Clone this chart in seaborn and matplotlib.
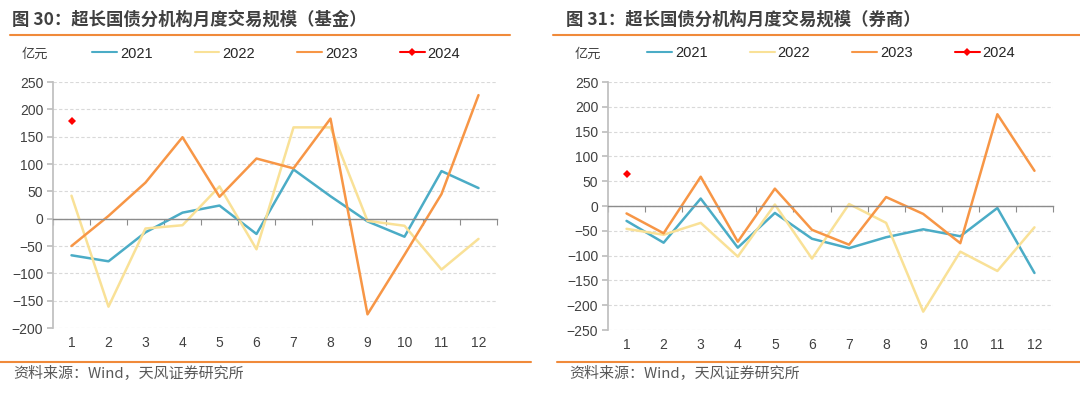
import matplotlib
matplotlib.use('Agg')
import matplotlib.pyplot as plt
import seaborn as sns
import pandas as pd

months = list(range(1, 13))
years = ['2021', '2022', '2023', '2024']

# 基金
fund_2021 = [-67, -78, -25, 11, 24, -28, 90, 41, -5, -33, 87, 56]
fund_2022 = [42, -161, -18, -12, 59, -56, 167, 167, -4, -13, -93, -37]
fund_2023 = [-50, 5, 66, 149, 40, 110, 92, 183, -175, -66, 45, 226]
fund_2024 = [178]

# 券商
broker_2021 = [-30, -74, 15, -84, -14, -66, -85, -63, -47, -61, -4, -135]
broker_2022 = [-46, -58, -34, -102, 3, -106, 4, -34, -213, -92, -131, -43]
broker_2023 = [-15, -55, 59, -72, 35, -48, -78, 18, -16, -75, 185, 71]
broker_2024 = [64]

titles = ['图 30：超长国债分机构月度交易规模（基金）', '图 31：超长国债分机构月度交易规模（券商）']
source = '资料来源：Wind，天风证券研究所'
colors = {'2021': '#4bacc6', '2022': '#f9e197', '2023': '#f79646', '2024': '#ff0000'}

sns.set_theme(style='white')
plt.rcParams['font.family'] = ['Liberation Sans', 'Noto Sans CJK SC', 'DejaVu Sans']
plt.rcParams['axes.unicode_minus'] = True

def make_df(series):
    rows = []
    for y, vals in zip(years, series):
        for m, v in zip(months, vals):
            rows.append({'month': m, 'value': v, 'year': y})
    return pd.DataFrame(rows)

fig = plt.figure(figsize=(10.8, 3.96), dpi=100)
ax1 = fig.add_axes([53 / 1080, 1 - 328 / 396, 444 / 1080, 246 / 396])
ax2 = fig.add_axes([608 / 1080, 1 - 330 / 396, 445 / 1080, 248 / 396])

panels = [
    (ax1, [fund_2021, fund_2022, fund_2023, fund_2024], (-200, 250)),
    (ax2, [broker_2021, broker_2022, broker_2023, broker_2024], (-250, 250)),
]

for ax, series, ylim in panels:
    df = make_df(series)
    for y in years:
        sub = df[df['year'] == y]
        if y == '2024':
            sns.lineplot(data=sub, x='month', y='value', ax=ax, color=colors[y], marker='D',
                         markersize=4.5, markeredgewidth=0, linewidth=1.8, label=y)
        else:
            sns.lineplot(data=sub, x='month', y='value', ax=ax, color=colors[y], linewidth=1.8, label=y)

    ax.set_xlim(0.5, 12.5)
    ax.set_ylim(*ylim)
    ax.set_yticks(range(ylim[0], ylim[1] + 1, 50))
    ax.set_xticks(months)
    ax.set_xticks([m + 0.5 for m in range(0, 13)], minor=True)
    ax.set_xlabel('')
    ax.set_ylabel('')
    ax.yaxis.grid(True, color='#d9d9d9', linestyle=(0, (3, 2)), linewidth=0.8)
    ax.set_axisbelow(True)

    # zero line via the top spine, boundary ticks pointing down
    ax.spines['bottom'].set_visible(False)
    ax.spines['right'].set_visible(False)
    ax.spines['top'].set_position(('data', 0))
    ax.spines['top'].set_color('#8c8c8c')
    ax.spines['top'].set_linewidth(1.0)
    ax.spines['left'].set_color('#bfbfbf')
    ax.tick_params(axis='x', which='major', bottom=True, top=False, length=0, labelsize=10,
                   labelcolor='#404040', pad=6)
    ax.tick_params(axis='x', which='minor', bottom=False, top=True, direction='in', length=4,
                   color='#8c8c8c', width=0.8)
    ax.tick_params(axis='y', left=True, length=4, color='#bfbfbf', labelsize=10,
                   labelcolor='#404040', pad=3)

    leg = ax.legend(ncol=4, loc='lower left', bbox_to_anchor=(0.088, 1.087), frameon=False,
                    fontsize=10.5, handlelength=1.7, handletextpad=0.2, columnspacing=2.9,
                    borderaxespad=0, borderpad=0)
    for h in leg.legend_handles:
        h.set_linewidth(1.5)
    for t in leg.get_texts():
        t.set_color('#262626')

# titles, rules, units and sources
for x0, x1, tx, title in [(10, 510, 12, titles[0]), (553, 1080, 566, titles[1])]:
    fig.text(tx / 1080, 1 - 20 / 396, title, fontsize=12.5, fontweight='bold', color='#404040',
             va='center', ha='left', family=['Noto Sans CJK SC', 'DejaVu Sans'])
    fig.add_artist(plt.Line2D([x0 / 1080, x1 / 1080], [1 - 35 / 396] * 2, color='#f08a3a', linewidth=1.5))

for x0, x1, tx, ux in [(0, 531, 13, 22), (557, 1080, 569, 575)]:
    fig.add_artist(plt.Line2D([x0 / 1080, x1 / 1080], [1 - 362 / 396] * 2, color='#f08a3a', linewidth=1.5))
    fig.text(tx / 1080, 1 - 374 / 396, source, fontsize=10.8, color='#595959', va='center', ha='left',
             family=['Noto Sans CJK SC', 'DejaVu Sans'])
    fig.text(ux / 1080, 1 - 54 / 396, '亿元', fontsize=9.5, color='#404040', va='center', ha='left',
             family=['Noto Sans CJK SC', 'DejaVu Sans'])

fig.savefig('out.png', dpi=100)
